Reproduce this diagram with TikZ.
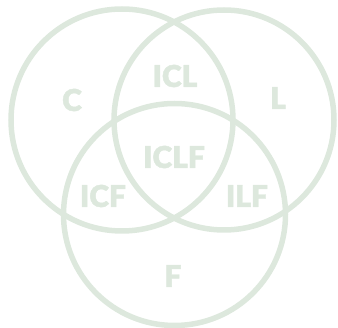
\documentclass[tikz,border=0pt]{standalone}
\usepackage{fontspec}
\setmainfont{Lato}[BoldFont={Lato Black},BoldFeatures={FakeBold=1.5}]
\definecolor{venn}{HTML}{DDE8DD}
\begin{document}
\begin{tikzpicture}[x=1pt,y=-1pt,
  ring/.style={draw=venn,line width=5.5pt},
  lbl/.style={text=venn,font=\fontsize{30}{31}\selectfont\bfseries,inner sep=0pt}]
\useasboundingbox (0,0) rectangle (338,328);
\draw[ring] (122,120) circle[radius=111];
\draw[ring] (224,120) circle[radius=110];
\draw[ring] (174.5,214.5) circle[radius=111];
\node[lbl] (c) at (72,100) {C};
\node[lbl] (icl) at (175,76) {ICL};
\node[lbl] (l) at (278,98) {L};
\node[lbl] (iclf) at (174,157) {ICLF};
\node[lbl] (icf) at (103,196) {ICF};
\node[lbl] (ilf) at (247,196) {ILF};
\node[lbl] (f) at (173,276) {F};
\end{tikzpicture}
\end{document}
